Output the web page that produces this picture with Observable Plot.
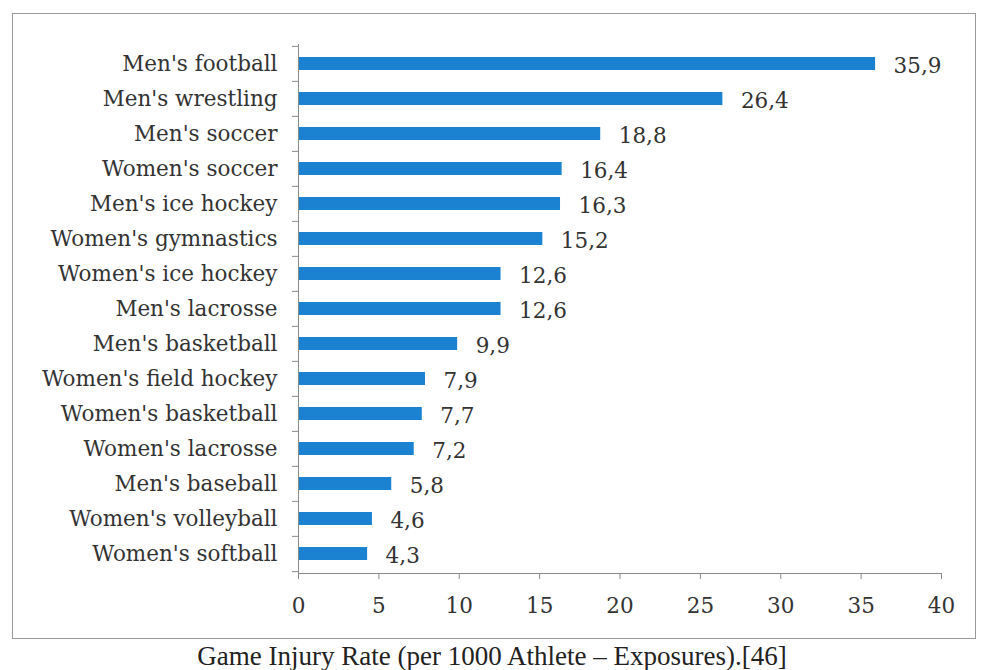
<!DOCTYPE html>
<html>
<head>
<meta charset="utf-8">
<script src="https://cdn.jsdelivr.net/npm/d3@7"></script>
<script src="https://cdn.jsdelivr.net/npm/@observablehq/plot@0.6"></script>
<style>
  html, body { margin: 0; padding: 0; background: #fff; overflow: hidden; }
  #frame { position: absolute; left: 12px; top: 13px; width: 962px; height: 624px; border: 1.5px solid #9a9a9a; background:#fff; }
  #caption { position: absolute; left: 0; width: 984px; top: 641px; line-height: 30px; text-align: center;
    font-family: "Liberation Serif", serif; font-size: 27px; color: #222; }
</style>
</head>
<body>
<div id="frame"></div>
<div id="caption">Game Injury Rate (per 1000 Athlete – Exposures).[46]</div>
<script>
const sports = ["Men's football","Men's wrestling","Men's soccer","Women's soccer","Men's ice hockey","Women's gymnastics","Women's ice hockey","Men's lacrosse","Men's basketball","Women's field hockey","Women's basketball","Women's lacrosse","Men's baseball","Women's volleyball","Women's softball"];
const rates = [35.9,26.4,18.8,16.4,16.3,15.2,12.6,12.6,9.9,7.9,7.7,7.2,5.8,4.6,4.3];
const xTicks = [0,5,10,15,20,25,30,35,40];

const data = sports.map((s,i)=>({sport:s, rate:rates[i]}));
const W = 962, H = 624, mt = 30, mb = 65;
const step = (H - mt - mb) / sports.length;
const fmt = v => v.toFixed(1).replace(".", ",");
const font = "DejaVu Serif";
const fs = 21.5;

const chart = Plot.plot({
  width: W, height: H,
  marginLeft: 285, marginRight: 34, marginTop: mt, marginBottom: mb,
  style: {fontFamily: font, fontSize: fs + "px", color: "#333", background: "transparent"},
  x: {domain: [0,40], ticks: xTicks},
  y: {domain: sports, paddingInner: 0.62, paddingOuter: 0.31},
  marks: [
    Plot.barX(data, {y: "sport", x: "rate", fill: "#1b82d2"}),
    Plot.text(data, {y: "sport", x: "rate", text: d => fmt(d.rate), textAnchor: "start", dx: 18, dy: 2, fill: "#333", fontSize: fs}),
    Plot.frame({anchor: "left", stroke: "#8a8a8a"}),
    Plot.frame({anchor: "bottom", stroke: "#8a8a8a"}),
    Plot.axisY({tickSize: 0, tickPadding: 21, label: null, fontSize: fs}),
    Plot.axisY({text: null, tickSize: 6, dy: -step/2, stroke: "#8a8a8a", label: null}),
    Plot.axisY([sports[sports.length-1]], {text: null, tickSize: 6, dy: step/2, stroke: "#8a8a8a", label: null}),
    Plot.axisX({ticks: xTicks, tickSize: 6, tickPadding: 18, stroke: "#8a8a8a", label: null, fontSize: fs, tickFormat: d => String(d)})
  ]
});
chart.style.position = "absolute";
chart.style.left = "13px";
chart.style.top = "14px";
document.body.appendChild(chart);
</script>
</body>
</html>
